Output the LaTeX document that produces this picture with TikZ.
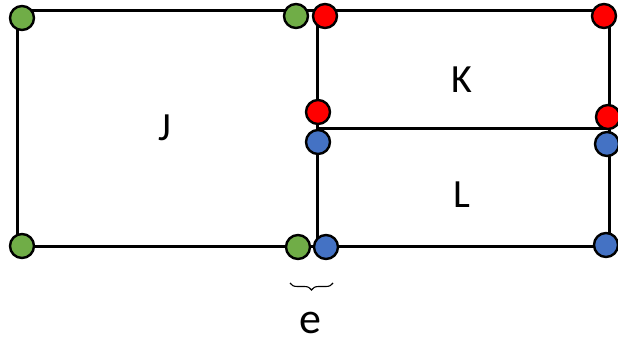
\documentclass[tikz,border=0pt]{standalone}
\usepackage{fontspec}
\setmainfont{Carlito}
\usetikzlibrary{decorations.pathreplacing}
\definecolor{dgreen}{HTML}{70AD47}
\definecolor{dred}{HTML}{FF0000}
\definecolor{dblue}{HTML}{4472C4}
\tikzset{
  edge/.style={line width=3pt},
  dot/.style={circle, draw=black, line width=2.4pt, minimum size=24pt, inner sep=0pt},
  gdot/.style={dot, fill=dgreen},
  rdot/.style={dot, fill=dred},
  bdot/.style={dot, fill=dblue},
  lbl/.style={font=\fontsize{40}{44}\selectfont, inner sep=0pt}
}
\begin{document}
\begin{tikzpicture}[x=1pt,y=-1pt]
\useasboundingbox (0,0) rectangle (618,344);
% corners
\coordinate (tl) at (17,11);
\coordinate (tm) at (317,11);
\coordinate (tr) at (609,11);
\coordinate (ml) at (317,129);
\coordinate (mr) at (609,129);
\coordinate (bl) at (17,247);
\coordinate (bm) at (317,247);
\coordinate (br) at (609,247);
% edges
\draw[edge] (tl) -- (tr) -- (br) -- (bl) -- cycle;
\draw[edge] (tm) -- (bm);
\draw[edge] (ml) -- (mr);
% dots
\node[gdot] (g1) at (22,18) {};
\node[gdot] (g2) at (296,16) {};
\node[gdot] (g3) at (22,246) {};
\node[gdot] (g4) at (298,247) {};
\node[rdot] (r1) at (325,16) {};
\node[rdot] (r2) at (604,16) {};
\node[rdot] (r3) at (318,112) {};
\node[rdot] (r4) at (608,117) {};
\node[bdot] (b1) at (318,142) {};
\node[bdot] (b2) at (607,144) {};
\node[bdot] (b3) at (326,247) {};
\node[bdot] (b4) at (606,245) {};
% labels
\node[lbl] (J) at (165,128) {J};
\node[lbl] (K) at (462,80) {K};
\node[lbl] (L) at (462,195) {L};
% brace
\coordinate (ea) at (290,283);
\coordinate (eb) at (333,283);
\draw[line width=1.1pt, decorate, decoration={brace, mirror, amplitude=7pt}] (ea) -- (eb);
\node[lbl, font=\fontsize{44}{48}\selectfont] (e) at (310,323) {e};
\end{tikzpicture}
\end{document}
